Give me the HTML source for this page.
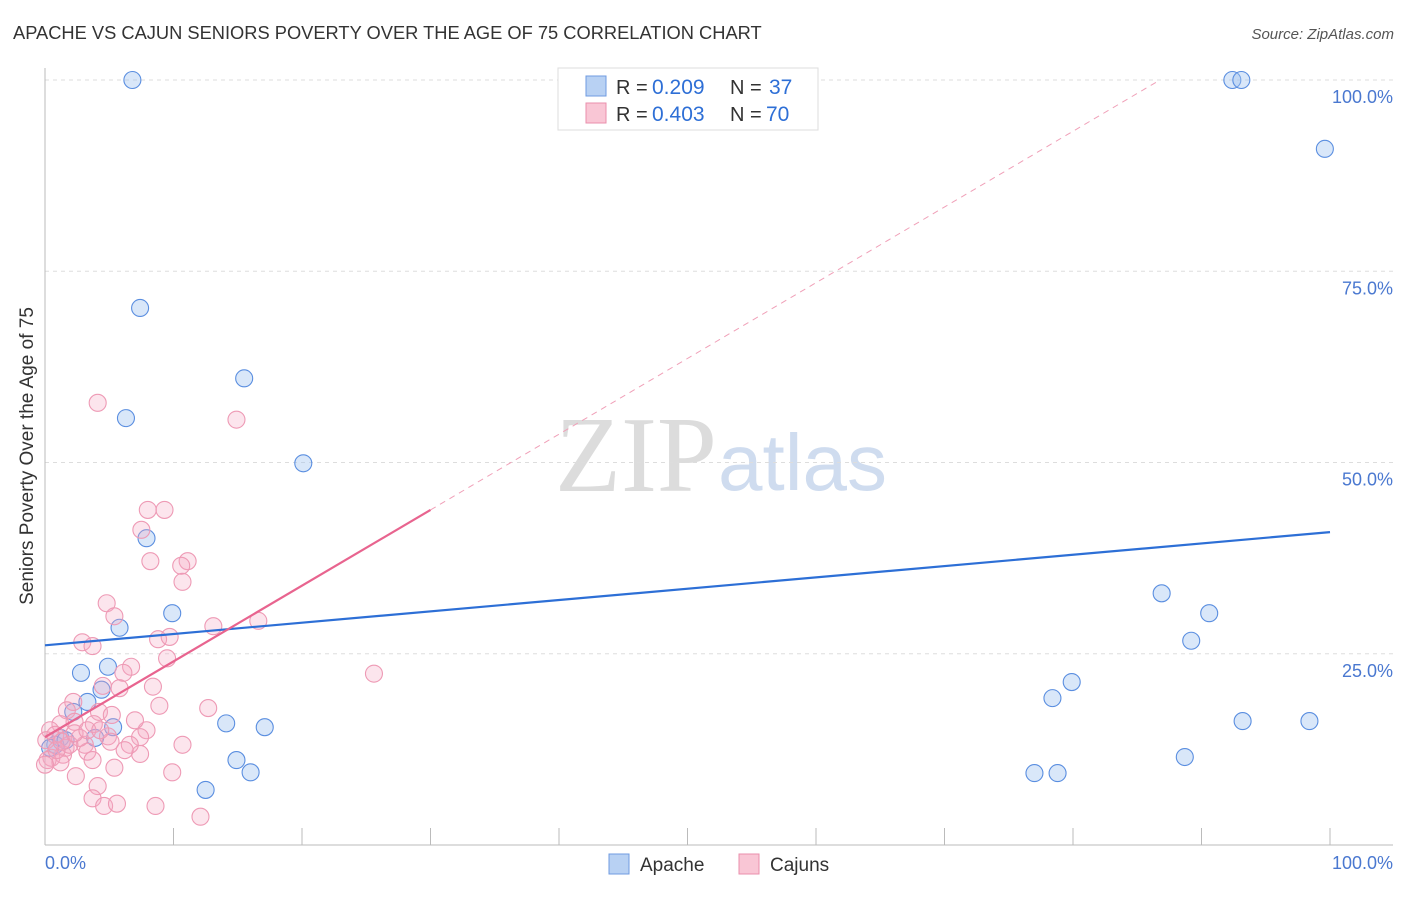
<!DOCTYPE html>
<html><head><meta charset="utf-8"><style>
body{margin:0;background:#fff;font-family:"Liberation Sans",sans-serif}
</style></head><body>
<svg width="1406" height="892" xmlns="http://www.w3.org/2000/svg">
<text x="13" y="39" font-size="18.3" fill="#333">APACHE VS CAJUN SENIORS POVERTY OVER THE AGE OF 75 CORRELATION CHART</text>
<text x="1394" y="39" font-size="15" fill="#555" font-style="italic" text-anchor="end">Source: ZipAtlas.com</text>
<text x="555" y="491" font-size="108" fill="#dcdcdc" font-family="Liberation Serif,serif">ZIP</text>
<text x="718" y="490" font-size="80" fill="#cfdcef">atlas</text>
<g id="grid"></g>
<g id="marks"></g>
<text transform="translate(33,456) rotate(-90)" font-size="19" fill="#333" text-anchor="middle">Seniors Poverty Over the Age of 75</text>
<text x="45" y="869" font-size="18" fill="#4a78d0">0.0%</text>
<text x="1393" y="869" font-size="18" fill="#4a78d0" text-anchor="end">100.0%</text>
<g>
<rect x="558" y="68" width="260" height="62" fill="#fff" stroke="#ddd"/>
<rect x="586" y="76" width="20" height="20" fill="#b8d1f3" stroke="#6f9be0"/>
<rect x="586" y="103" width="20" height="20" fill="#f9c6d5" stroke="#ea8fac"/>
<text x="616" y="94" font-size="20" fill="#333">R =</text>
<text x="652" y="94" font-size="21" fill="#2e6fd6">0.209</text>
<text x="730" y="94" font-size="20" fill="#333">N =</text>
<text x="769" y="94" font-size="21" fill="#2e6fd6">37</text>
<text x="616" y="121" font-size="20" fill="#333">R =</text>
<text x="652" y="121" font-size="21" fill="#2e6fd6">0.403</text>
<text x="730" y="121" font-size="20" fill="#333">N =</text>
<text x="766" y="121" font-size="21" fill="#2e6fd6">70</text>
</g>
<g>
<rect x="609" y="854" width="20" height="20" fill="#b8d1f3" stroke="#6f9be0"/>
<text x="640" y="871" font-size="19" fill="#333">Apache</text>
<rect x="739" y="854" width="20" height="20" fill="#f9c6d5" stroke="#ea8fac"/>
<text x="770" y="871" font-size="19" fill="#333">Cajuns</text>
</g>
</svg>
<script>
const yTicks=[25,50,75,100];
const xTicks=[0,10,20,30,40,50,60,70,80,90,100];
const apacheX=[6.8,7.4,15.5,6.3,20.1,7.9,9.9,5.8,4.9,2.8,4.4,3.3,2.2,5.3,14.1,17.1,3.9,1.2,0.8,0.4,14.9,16.0,12.5,92.4,93.1,99.6,86.9,90.6,89.2,79.9,78.4,93.2,98.4,88.7,77.0,78.8,1.6];
const apacheY=[100,70.2,61.0,55.8,49.9,40.1,30.3,28.4,23.3,22.5,20.3,18.7,17.4,15.4,15.9,15.4,14.0,14.0,13.1,12.7,11.1,9.5,7.2,100,100,91.0,32.9,30.3,26.7,21.3,19.2,16.2,16.2,11.5,9.4,9.4,13.7];
const cajunX=[4.1,14.9,8.0,9.3,7.5,8.2,11.1,10.6,10.7,4.8,5.4,13.1,16.6,2.9,3.7,8.8,9.7,9.5,6.7,6.1,5.8,8.4,4.5,8.9,12.7,2.2,1.7,4.2,5.2,3.8,2.3,1.2,7.9,4.9,7.4,10.7,3.1,5.1,7.4,3.3,3.7,1.4,0.5,0.2,0.4,0.1,0.8,1.6,2.7,1.2,0,5.4,9.9,2.4,4.1,3.7,4.6,5.6,8.6,12.1,25.6,6.6,1.9,0.9,1.3,2.3,3.3,4.3,6.2,7.0];
const cajunY=[57.8,55.6,43.8,43.8,41.2,37.1,37.1,36.5,34.4,31.6,29.9,28.6,29.3,26.5,26.0,26.9,27.2,24.4,23.3,22.5,20.5,20.7,20.8,18.2,17.9,18.7,17.6,17.4,17.0,15.8,16.1,15.8,15.0,14.2,14.1,13.1,13.1,13.5,11.9,12.2,11.1,11.8,11.4,11.1,15.0,13.7,14.4,12.7,14.0,10.8,10.5,10.1,9.5,9.0,7.7,6.1,5.1,5.4,5.1,3.7,22.4,13.1,13.1,12.4,13.5,14.6,15.0,15.0,12.4,16.3];
const apacheTrend=[26.1,40.9];
const cajunTrend=[14.1,43.8];
const X=v=>45+v*12.85, Y=v=>845-v*7.65;
const NS='http://www.w3.org/2000/svg';
const grid=document.getElementById('grid'), marks=document.getElementById('marks');
function mk(t,a,p){const e=document.createElementNS(NS,t);for(const k in a)e.setAttribute(k,a[k]);p.appendChild(e);return e;}
yTicks.forEach(v=>{
 const l=mk('line',{x1:45,x2:1393,y1:Y(v),y2:Y(v),stroke:'#ddd','stroke-dasharray':'4,4'},grid);
 
 
 const t=mk('text',{x:1393,y:Y(v)+23,'font-size':18,fill:'#4a78d0','text-anchor':'end'},grid);
 t.textContent=v.toFixed(1)+'%';
 
 
});
mk('line',{x1:45,x2:45,y1:68,y2:845,stroke:'#bbb'},grid);
mk('line',{x1:45,x2:1393,y1:845,y2:845,stroke:'#bbb'},grid);
xTicks.forEach(v=>{
 const l=mk('line',{x1:X(v),x2:X(v),y1:828,y2:845,stroke:'#bbb'},grid);
 
 
});
apacheX.forEach((x,i)=>{
 const c=mk('circle',{cx:X(x),cy:Y(apacheY[i]),r:8.5,fill:'rgba(160,195,240,0.4)',stroke:'#5a8ee0','stroke-width':1.1},marks);
 
 
});
cajunX.forEach((x,i)=>{
 const c=mk('circle',{cx:X(x),cy:Y(cajunY[i]),r:8.5,fill:'rgba(245,170,195,0.3)',stroke:'#ee9ab5','stroke-width':1.1},marks);
 
 
});
const aT=mk('line',{x1:X(0),y1:Y(apacheTrend[0]),x2:X(100),y2:Y(apacheTrend[1]),stroke:'#2d6fd6','stroke-width':2.2},marks);


const slope=(cajunTrend[1]-cajunTrend[0])/30;
const xEnd=Math.min(100,(100-cajunTrend[0])/slope);
const cD=mk('line',{x1:X(30),y1:Y(cajunTrend[1]),x2:X(xEnd),y2:Y(cajunTrend[0]+slope*xEnd),stroke:'#f0a0b8','stroke-width':1,'stroke-dasharray':'6,5'},marks);


const cT=mk('line',{x1:X(0),y1:Y(cajunTrend[0]),x2:X(30),y2:Y(cajunTrend[1]),stroke:'#e8648f','stroke-width':2.2},marks);


</script>
</body></html>
